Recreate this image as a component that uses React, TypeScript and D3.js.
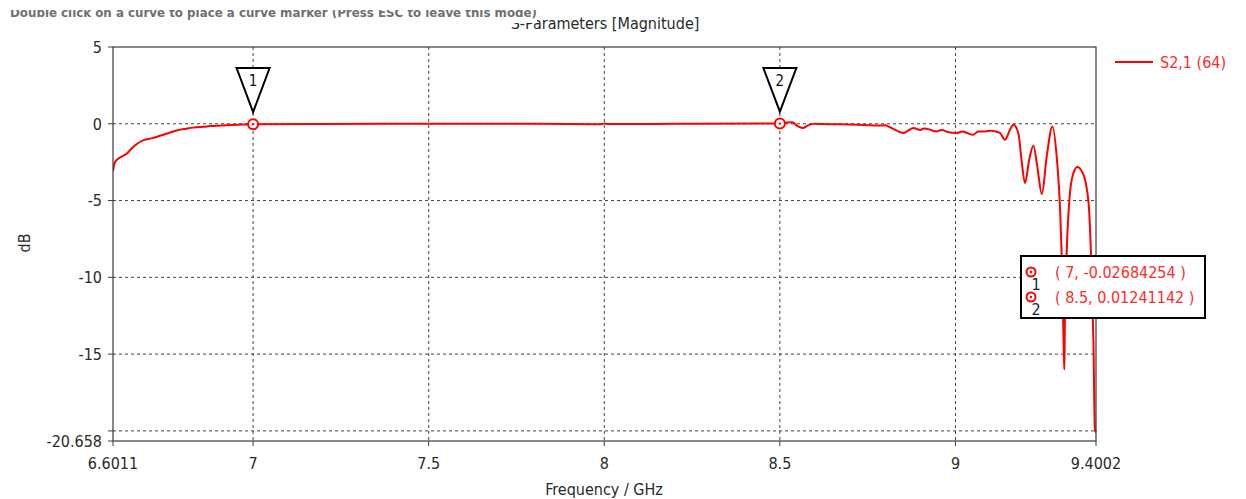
import React from 'react'
import * as d3 from 'd3'

// S2,1 magnitude curve (GHz, dB)
const freqGHz = [
  6.6011, 6.605, 6.612, 6.625, 6.64, 6.655, 6.67, 6.69, 6.71, 6.735, 6.76, 6.785, 6.81, 6.83, 6.86, 6.88,
  6.91, 6.94, 6.97, 7.0, 7.2, 7.5, 7.8, 7.99, 8.0, 8.01, 8.2, 8.5, 8.52, 8.535, 8.55, 8.565, 8.58, 8.6,
  8.62, 8.66, 8.7, 8.74, 8.78, 8.8, 8.82, 8.852, 8.865, 8.88, 8.9, 8.91, 8.93, 8.945, 8.96, 8.98, 9.003,
  9.02, 9.035, 9.05, 9.065, 9.085, 9.1, 9.115, 9.127, 9.141, 9.155, 9.165, 9.179, 9.188, 9.198, 9.21,
  9.222, 9.233, 9.246, 9.26, 9.276, 9.289, 9.298, 9.304, 9.308, 9.31, 9.311, 9.312, 9.317, 9.326, 9.336,
  9.347, 9.36, 9.372, 9.381, 9.388, 9.393, 9.397, 9.4002
]
const magDb = [
  -3.1, -2.6, -2.35, -2.15, -1.95, -1.6, -1.3, -1.05, -0.95, -0.78, -0.6, -0.42, -0.32, -0.25, -0.19, -0.15,
  -0.12, -0.08, -0.05, -0.027, -0.01, 0.0, 0.0, -0.03, 0.02, -0.02, 0.0, 0.012, 0.08, 0.1, -0.15, -0.28, -0.1,
  0.0, -0.02, -0.03, -0.05, -0.08, -0.12, -0.1, -0.3, -0.6, -0.45, -0.28, -0.4, -0.3, -0.4, -0.5, -0.4,
  -0.55, -0.6, -0.5, -0.62, -0.72, -0.5, -0.5, -0.45, -0.5, -0.6, -1.04, -0.4, -0.06, -0.6, -2.34, -3.86,
  -2.34, -1.43, -2.78, -4.58, -2.1, -0.17, -2.34, -5.6, -9.94, -14.3, -16.0, -14.0, -12.1, -8.2, -4.5,
  -3.21, -2.82, -3.1, -3.97, -5.8, -9.94, -14.3, -19.9, -20.1
]

const markerIds = ['1', '2']
const markerFreq = [7, 8.5]
const markerDb = [-0.02684254, 0.01241142]
const markerText = ['( 7, -0.02684254 )', '( 8.5, 0.01241142 )']

const xLabelTicks = [6.6011, 7, 7.5, 8, 8.5, 9, 9.4002]
const xGridTicks = [7, 7.5, 8, 8.5, 9]
const yLabelTicks = [5, 0, -5, -10, -15, -20.658]
const yGridTicks = [0, -5, -10, -15, -20]

const W = 1246
const H = 499
const plot = { left: 113, right: 1096, top: 47, bottom: 441 }
const font = "Tahoma, 'DejaVu Sans Condensed', 'DejaVu Sans', sans-serif"
const ink = '#2a2a2a'
const red = '#ff0000'

export default function App() {
  const x = d3.scaleLinear().domain([6.6011, 9.4002]).range([plot.left, plot.right])
  const y = d3.scaleLinear().domain([-20.658, 5]).range([plot.bottom, plot.top])

  const pts: [number, number][] = freqGHz.map((f, i) => [f, magDb[i]])
  const line = d3
    .line<[number, number]>()
    .x((d) => x(d[0]))
    .y((d) => y(d[1]))
    .curve(d3.curveMonotoneX)

  return (
    <div style={{ position: 'absolute', left: 0, top: 0 }}>
      <svg width={W} height={H} style={{ display: 'block', background: '#fff' }} fontFamily={font}>
        <defs>
          <clipPath id="plotClip">
            <rect x={plot.left} y={plot.top - 1} width={plot.right - plot.left + 1} height={plot.bottom - plot.top + 2} />
          </clipPath>
          <clipPath id="msgClip">
            <rect x={0} y={10} width={560} height={20} />
          </clipPath>
        </defs>

        {/* title, partly covered by the hint text */}
        <text x={605} y={29} textAnchor="middle" fontSize={16} fill={ink}>
          S-Parameters [Magnitude]
        </text>
        <rect x={0} y={0} width={537} height={23} fill="#fff" />
        <text
          x={10}
          y={17}
          fontSize={13}
          fontWeight="bold"
          fill="#707070"
          clipPath="url(#msgClip)"
          textLength={527}
          lengthAdjust="spacingAndGlyphs"
        >
          Double click on a curve to place a curve marker (Press ESC to leave this mode)
        </text>

        {/* grid */}
        {yGridTicks.map((v) => (
          <line key={'gy' + v} x1={plot.left} x2={plot.right} y1={y(v)} y2={y(v)} stroke="#444" strokeDasharray="3,3" />
        ))}
        {xGridTicks.map((v) => (
          <line key={'gx' + v} x1={x(v)} x2={x(v)} y1={plot.top} y2={plot.bottom} stroke="#444" strokeDasharray="3,3" />
        ))}

        {/* curve */}
        <path d={line(pts) ?? ''} fill="none" stroke={red} strokeWidth={2} clipPath="url(#plotClip)" />

        {/* frame */}
        <rect
          x={plot.left}
          y={plot.top}
          width={plot.right - plot.left}
          height={plot.bottom - plot.top}
          fill="none"
          stroke="#3a3a3a"
          strokeWidth={1.2}
        />

        {/* y axis */}
        {[...yLabelTicks, -20].map((v) => (
          <line key={'ty' + v} x1={plot.left - 5} x2={plot.left} y1={y(v)} y2={y(v)} stroke="#3a3a3a" />
        ))}
        {yLabelTicks.map((v) => (
          <text key={'ly' + v} x={plot.left - 11} y={y(v)} dy="0.36em" textAnchor="end" fontSize={16} fill={ink}>
            {String(v)}
          </text>
        ))}
        <text transform={`translate(30,243) rotate(-90)`} textAnchor="middle" fontSize={16} fill={ink}>
          dB
        </text>

        {/* x axis */}
        {xLabelTicks.map((v) => (
          <line key={'tx' + v} x1={x(v)} x2={x(v)} y1={plot.bottom} y2={plot.bottom + 5} stroke="#3a3a3a" />
        ))}
        {xLabelTicks.map((v) => (
          <text key={'lx' + v} x={x(v)} y={469} textAnchor="middle" fontSize={16} fill={ink}>
            {String(v)}
          </text>
        ))}
        <text x={604} y={495} textAnchor="middle" fontSize={16} fill={ink}>
          Frequency / GHz
        </text>

        {/* curve markers */}
        {markerIds.map((id, i) => {
          const cx = x(markerFreq[i])
          const cy = y(markerDb[i])
          return (
            <g key={'m' + id}>
              <path
                d={`M${cx - 16.5},68 L${cx + 16.5},68 L${cx},${cy - 12} Z`}
                fill="#fff"
                stroke="#000"
                strokeWidth={2}
              />
              <text x={cx} y={86} textAnchor="middle" fontSize={15} fill="#111">
                {id}
              </text>
              <circle cx={cx} cy={cy} r={5} fill="#fff" stroke={red} strokeWidth={2} />
              <circle cx={cx} cy={cy} r={1.2} fill={red} />
            </g>
          )
        })}

        {/* marker value box */}
        <rect x={1021} y={256} width={184} height={62} fill="#fff" stroke="#000" strokeWidth={2} />
        {markerIds.map((id, i) => (
          <g key={'b' + id}>
            <circle cx={1031} cy={272 + i * 25} r={4.5} fill="#fff" stroke={red} strokeWidth={2} />
            <circle cx={1031} cy={272 + i * 25} r={1.2} fill={red} />
            <text x={1036} y={290 + i * 25} textAnchor="middle" fontSize={16} fill="#1a2540">
              {id}
            </text>
            <text x={1055} y={278 + i * 25} fontSize={16} fill="#ff2a2a">
              {markerText[i]}
            </text>
          </g>
        ))}

        {/* legend */}
        <line x1={1115} x2={1153} y1={62} y2={62} stroke={red} strokeWidth={2} />
        <text x={1160} y={68} fontSize={16} fill="#ff2a2a">
          S2,1 (64)
        </text>
      </svg>
    </div>
  )
}
